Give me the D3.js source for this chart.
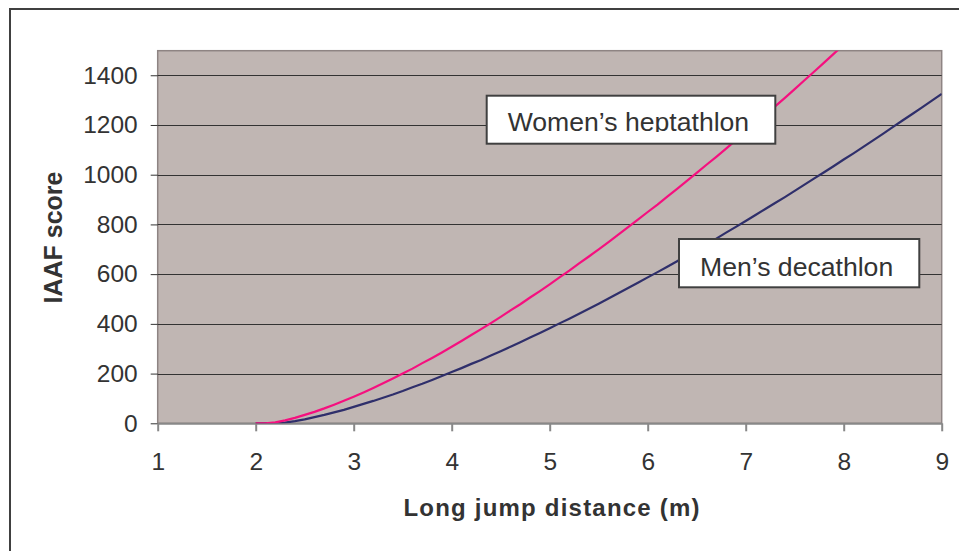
<!DOCTYPE html>
<html>
<head>
<meta charset="utf-8">
<script src="https://cdn.jsdelivr.net/npm/d3@7"></script>
<style>
  body { margin: 0; background: #fff; }
  svg { display: block; font-family: "Liberation Sans", Arial, sans-serif; }
</style>
</head>
<body>
<svg width="959" height="551"></svg>
<script>
// long jump distance (m), every 0.1 m from 2.0 to 9.0
var distances = d3.range(71).map(function(i) { return +(2 + i / 10).toFixed(1); });

// men's decathlon score
var menScores = [0, 0, 0, 3, 9, 16, 25, 34, 44, 54,
  66, 78, 90, 103, 116, 130, 145, 159, 174, 190,
  206, 222, 239, 255, 273, 290, 308, 326, 345, 363,
  382, 402, 421, 441, 461, 481, 502, 523, 544, 565,
  587, 608, 630, 652, 675, 698, 720, 743, 767, 790,
  814, 838, 862, 886, 910, 935, 960, 985, 1010, 1035,
  1061, 1086, 1112, 1138, 1164, 1191, 1218, 1244, 1271, 1298,
  1325];

// women's heptathlon score (runs off the top near 7.9 m)
var womenScores = [0, 0, 4, 12, 22, 34, 46, 60, 75, 91,
  107, 124, 142, 161, 180, 200, 220, 242, 263, 285,
  308, 331, 355, 379, 403, 428, 454, 479, 506, 532,
  559, 587, 614, 643, 671, 700, 729, 759, 789, 819,
  850, 880, 912, 943, 975, 1007, 1040, 1072, 1105, 1139,
  1172, 1206, 1240, 1275, 1309, 1344, 1380, 1415, 1451, 1487,
  1523];

var xTicks = [1, 2, 3, 4, 5, 6, 7, 8, 9];
var yTicks = [0, 200, 400, 600, 800, 1000, 1200, 1400];

var svg = d3.select("svg");

// outer frame
svg.append("rect")
  .attr("x", 10)
  .attr("y", 9)
  .attr("width", 980)
  .attr("height", 580)
  .attr("fill", "none")
  .attr("stroke", "#404040")
  .attr("stroke-width", 2);

var x = d3.scaleLinear().domain([1, 9]).range([157.7, 941.7]);
var y = d3.scaleLinear().domain([0, 1500]).range([423.3, 50.4]);

// plot area
svg.append("rect")
  .attr("x", x(1))
  .attr("y", 50.7)
  .attr("width", x(9) - x(1))
  .attr("height", y(0) - 50.7)
  .attr("fill", "#c0b6b3")
  .attr("stroke", "#8e8483")
  .attr("stroke-width", 1.5);

svg.append("clipPath")
  .attr("id", "plotClip")
  .append("rect")
  .attr("x", x(1))
  .attr("y", 50.7)
  .attr("width", x(9) - x(1))
  .attr("height", y(0) - 50.7);

// y axis with gridlines
var yAxis = svg.append("g")
  .attr("transform", "translate(" + x(1) + ",0)")
  .call(d3.axisLeft(y).tickValues(yTicks).tickSize(7).tickPadding(13).tickFormat(d3.format("d")));
yAxis.select(".domain").remove();
yAxis.selectAll("line").attr("stroke", "#333");
yAxis.selectAll("text")
  .attr("font-size", 24.5)
  .attr("fill", "#333")
  .attr("font-family", "Liberation Sans, Arial, sans-serif");

svg.append("g")
  .selectAll("line")
  .data(yTicks.filter(function(d) { return d > 0; }))
  .enter().append("line")
  .attr("x1", x(1))
  .attr("x2", x(9))
  .attr("y1", function(d) { return Math.round(y(d)) + 0.5; })
  .attr("y2", function(d) { return Math.round(y(d)) + 0.5; })
  .attr("stroke", "#333")
  .attr("stroke-width", 1.2);

// x axis
var xAxis = svg.append("g")
  .attr("transform", "translate(0," + y(0) + ")")
  .call(d3.axisBottom(x).tickValues(xTicks).tickSize(8).tickSizeOuter(0).tickPadding(21).tickFormat(d3.format("d")));
xAxis.select(".domain").attr("stroke", "#888").attr("stroke-width", 2);
xAxis.selectAll("line").attr("stroke", "#888").attr("stroke-width", 2);
xAxis.selectAll("text")
  .attr("font-size", 24.5)
  .attr("fill", "#333")
  .attr("font-family", "Liberation Sans, Arial, sans-serif");

// the two scoring curves
var line = d3.line()
  .x(function(d) { return x(d[0]); })
  .y(function(d) { return y(d[1]); });

var series = [
  { name: "men", color: "#2f2f6b", values: d3.zip(distances, menScores) },
  { name: "women", color: "#f5107f", values: d3.zip(distances, womenScores) }
];

svg.append("g")
  .attr("clip-path", "url(#plotClip)")
  .selectAll("path")
  .data(series)
  .enter().append("path")
  .attr("d", function(d) { return line(d.values); })
  .attr("fill", "none")
  .attr("stroke", function(d) { return d.color; })
  .attr("stroke-width", 2.2)
  .attr("stroke-linejoin", "round");

// label boxes
var labels = [
  { text: "Women\u2019s heptathlon", bx: 486.7, by: 95.7, bw: 288.6, bh: 48, tx: 507.7, ty: 131, clip: 132 },
  { text: "Men\u2019s decathlon", bx: 679, by: 239, bw: 240.3, bh: 48.3, tx: 700, ty: 275.5, clip: 286 }
];

labels.forEach(function(l, i) {
  svg.append("clipPath")
    .attr("id", "labelClip" + i)
    .append("rect")
    .attr("x", l.bx)
    .attr("y", l.by)
    .attr("width", l.bw)
    .attr("height", l.clip - l.by);

  svg.append("rect")
    .attr("x", l.bx)
    .attr("y", l.by)
    .attr("width", l.bw)
    .attr("height", l.bh)
    .attr("fill", "#fff")
    .attr("stroke", "#404040")
    .attr("stroke-width", 2);

  svg.append("text")
    .attr("x", l.tx)
    .attr("y", l.ty)
    .attr("clip-path", "url(#labelClip" + i + ")")
    .attr("font-size", 26.6)
    .attr("fill", "#333")
    .text(l.text);
});

// axis titles
svg.append("text")
  .attr("x", 551.5)
  .attr("y", 515.5)
  .attr("text-anchor", "middle")
  .attr("font-size", 24)
  .attr("font-weight", "bold")
  .attr("fill", "#333")
  .attr("textLength", 296)
  .attr("lengthAdjust", "spacing")
  .text("Long jump distance (m)");

svg.append("text")
  .attr("transform", "translate(61.5,237.5) rotate(-90)")
  .attr("text-anchor", "middle")
  .attr("font-size", 25)
  .attr("font-weight", "bold")
  .attr("fill", "#333")
  .text("IAAF score");
</script>
</body>
</html>
